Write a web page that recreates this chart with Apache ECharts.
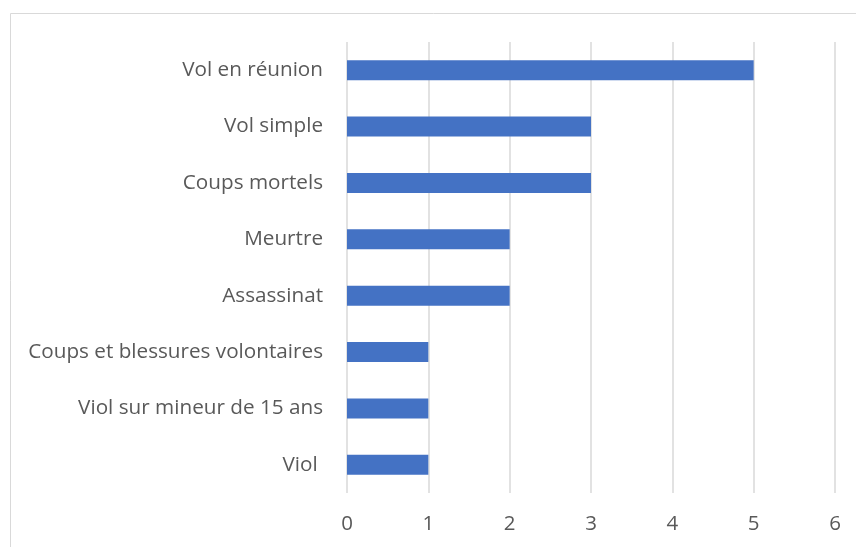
<!DOCTYPE html>
<html>
<head>
<meta charset="utf-8">
<script src="https://cdn.jsdelivr.net/npm/echarts@6/dist/echarts.min.js"></script>
<style>
  html, body { margin: 0; padding: 0; background: #fff; }
  #chart { width: 856px; height: 547px; }
</style>
</head>
<body>
<div id="chart"></div>
<script>
// categories listed bottom -> top (category axis starts at bottom)
var categories = ['Viol ', 'Viol sur mineur de 15 ans', 'Coups et blessures volontaires', 'Assassinat', 'Meurtre', 'Coups mortels', 'Vol simple', 'Vol en réunion']
var values = [1, 1, 1, 2, 2, 3, 3, 5]
var xTicks = { min: 0, max: 6, interval: 1 }

var myChart = echarts.init(document.getElementById('chart'))
var option = {
  animation: false,
  textStyle: { fontFamily: 'Open Sans' },
  graphic: [
    {
      // outer chart frame, runs off the right and bottom edges
      type: 'rect',
      shape: { x: 10.5, y: 13.5, width: 900, height: 600 },
      style: { fill: 'none', stroke: '#d9d9d9', lineWidth: 1 },
      silent: true,
    },
  ],
  grid: {
    left: 347,
    right: 21,
    top: 42,
    bottom: 54,
  },
  xAxis: {
    type: 'value',
    min: xTicks.min,
    max: xTicks.max,
    interval: xTicks.interval,
    axisLine: { show: false },
    axisTick: { show: false },
    splitLine: {
      lineStyle: { color: '#d9d9d9', width: 1.5 },
    },
    axisLabel: {
      margin: 21,
      color: '#595959',
      fontSize: 20.5,
    },
  },
  yAxis: {
    type: 'category',
    data: categories,
    axisLine: { show: false },
    axisTick: { show: false },
    axisLabel: {
      margin: 24,
      color: '#595959',
      fontSize: 20.7,
    },
  },
  series: [
    {
      type: 'bar',
      data: values,
      barWidth: 20,
      itemStyle: { color: '#4472C4' },
    },
  ],
}
myChart.setOption(option, true)
</script>
</body>
</html>
